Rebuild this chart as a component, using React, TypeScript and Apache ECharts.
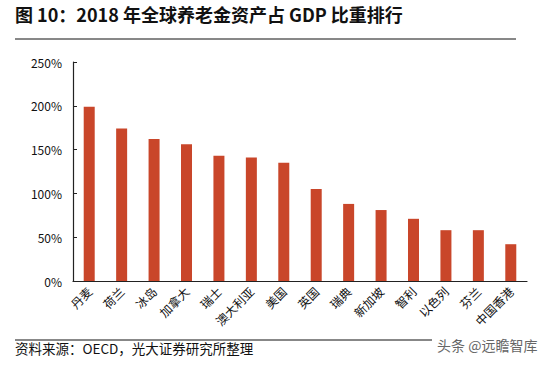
import React, { useEffect, useRef } from "react";
import * as echarts from "echarts";

const categories = ["丹麦", "荷兰", "冰岛", "加拿大", "瑞士", "澳大利亚", "美国", "英国", "瑞典", "新加坡", "智利", "以色列", "芬兰", "中国香港"];
const values = [199, 174, 162, 156, 143, 141, 135, 105, 88, 81, 71, 58, 58, 42];
const yTicks = [0, 50, 100, 150, 200, 250];

const titleText = "图 10：2018 年全球养老金资产占 GDP 比重排行";
const sourceText = "资料来源：OECD，光大证券研究所整理";
const watermark = "头条 @远瞻智库";

export default function App() {
  const ref = useRef<HTMLDivElement>(null);
  useEffect(() => {
    if (!ref.current) return;
    const chart = echarts.init(ref.current, null, { renderer: "svg" });
    const font = "'Noto Sans CJK SC', 'Noto Sans', sans-serif";
    chart.setOption({
      animation: false,
      backgroundColor: "#ffffff",
      textStyle: { fontFamily: font },
      grid: { left: 73, right: 21, top: 62, bottom: 84, containLabel: false },
      xAxis: {
        type: "category",
        data: categories,
        axisLine: { lineStyle: { color: "#222", width: 1.2 } },
        axisTick: { inside: true, length: 4, lineStyle: { color: "#222" } },
        axisLabel: { rotate: 45, color: "#111", fontSize: 12, fontFamily: font, margin: 8, interval: 0 },
      },
      yAxis: {
        type: "value",
        min: yTicks[0],
        max: yTicks[yTicks.length - 1],
        interval: 50,
        axisLine: { show: true, lineStyle: { color: "#222", width: 1.2 } },
        axisTick: { show: true, inside: true, length: 4, lineStyle: { color: "#222" } },
        axisLabel: { formatter: "{value}%", color: "#111", fontSize: 12, fontFamily: font, margin: 11 },
        splitLine: { show: false },
      },
      series: [
        {
          type: "bar",
          data: values,
          barWidth: 11,
          itemStyle: { color: "#C9462A" },
        },
      ],
      graphic: [
        {
          type: "text",
          left: 15,
          top: 5,
          style: { text: titleText, font: `bold 18px ${font}`, fill: "#111" },
        },
        { type: "line", shape: { x1: 15, y1: 39, x2: 516, y2: 39 }, style: { stroke: "#111", lineWidth: 1 } },
        { type: "line", shape: { x1: 15, y1: 340, x2: 516, y2: 340 }, style: { stroke: "#111", lineWidth: 1 } },
        {
          type: "text",
          left: 15,
          top: 341,
          style: { text: sourceText, font: `13.5px ${font}`, fill: "#111" },
        },
        {
          type: "rect",
          shape: { x: 432, y: 336, width: 116, height: 26 },
          style: { fill: "#ffffff" },
        },
        {
          type: "text",
          left: 437,
          top: 338,
          style: { text: watermark, font: `14px ${font}`, fill: "#666" },
        },
      ],
    });
    return () => chart.dispose();
  }, []);
  return <div ref={ref} style={{ position: "fixed", left: 0, top: 0, width: 548, height: 365 }} />;
}
